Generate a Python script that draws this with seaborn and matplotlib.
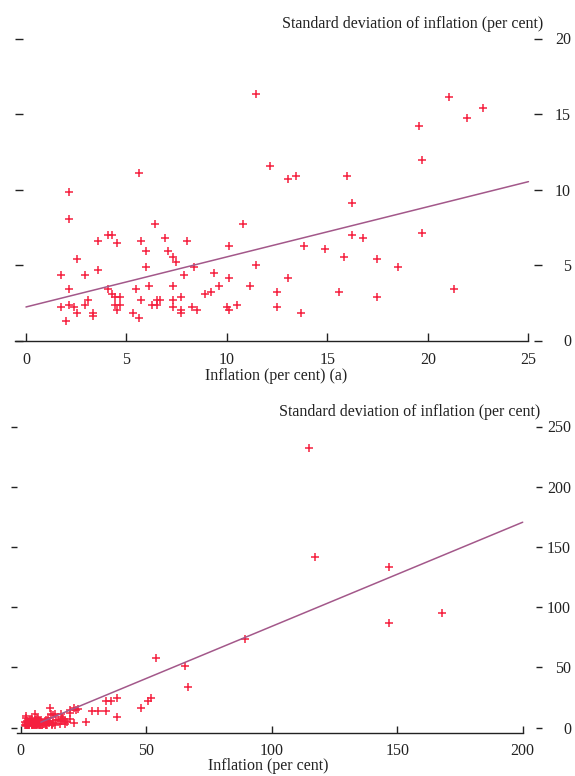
import numpy as np
import pandas as pd
import seaborn as sns
import matplotlib.pyplot as plt

# ---- values ----
# panel (a): countries with average inflation below 25 per cent
infl_a = [5.6, 2.14, 2.14, 6.4, 10.8, 4.1, 4.27, 3.59, 4.54, 5.72,
          6.92, 8.0, 10.1, 5.99, 7.07, 7.32, 7.47, 2.53, 3.59, 5.99,
          8.38, 11.46, 1.73, 2.94, 7.85, 9.33, 10.1, 13.03, 2.14, 4.1,
          5.45, 6.13, 7.32, 9.59, 11.17, 12.48, 4.27, 8.91, 9.2, 3.07,
          4.41, 4.67, 5.72, 6.52, 6.65, 7.32, 7.73, 1.73, 2.14, 2.41,
          2.94, 4.41, 4.67, 6.25, 6.52, 7.32, 8.25, 9.98, 10.52, 12.48,
          2.54, 3.34, 3.34, 4.54, 5.32, 7.73, 7.73, 8.53, 10.1, 2.01,
          5.6, 13.68, 13.03, 13.43, 15.97, 16.22, 16.22, 16.75, 19.7, 13.83,
          14.9, 15.83, 17.44, 18.49, 15.58, 17.44, 21.3, 21.03, 22.76, 21.96,
          19.57, 19.7, 11.44, 12.12]
sd_a = [11.07, 9.82, 8.04, 7.69, 7.71, 6.98, 6.98, 6.62, 6.44, 6.62,
        6.8, 6.62, 6.27, 5.91, 5.93, 5.56, 5.2, 5.38, 4.67, 4.84,
        4.84, 5.02, 4.31, 4.31, 4.31, 4.49, 4.16, 4.13, 3.44, 3.44,
        3.44, 3.62, 3.62, 3.6, 3.62, 3.24, 3.07, 3.07, 3.24, 2.71,
        2.89, 2.89, 2.71, 2.71, 2.71, 2.71, 2.89, 2.2, 2.36, 2.2,
        2.36, 2.36, 2.36, 2.36, 2.36, 2.2, 2.2, 2.2, 2.36, 2.2,
        1.82, 1.82, 1.64, 2.0, 1.82, 2.0, 1.82, 2.0, 2.0, 1.29,
        1.49, 1.82, 10.71, 10.89, 10.89, 9.11, 6.98, 6.8, 7.15, 6.27,
        6.09, 5.56, 5.38, 4.84, 3.24, 2.89, 3.42, 16.11, 15.42, 14.71,
        14.18, 11.98, 16.3, 11.54]

# high-inflation countries, only in the full sample (lower panel)
infl_b = [25.8, 28.5, 30.8, 33.8, 33.8, 36.0, 38.3, 38.2, 48.0, 50.8,
          51.9, 53.8, 65.4, 66.5, 89.5, 114.7, 117.1, 146.6, 146.6, 167.9]
sd_b = [4.6, 13.7, 13.7, 13.7, 22.2, 22.2, 24.4, 8.6, 15.8, 22.3,
        24.4, 58.0, 51.3, 33.3, 73.5, 232.0, 142.0, 133.0, 86.5, 95.3]

# fitted lines: (intercept, slope) and the x range they span
fit_a = (2.22, 0.332)
fit_all = (-2.5, 0.865)
fit_range_a = (0, 25)
fit_range_all = (8, 200)

xticks_a = [0, 5, 10, 15, 20, 25]
yticks_a = [0, 5, 10, 15, 20]
xticks_all = [0, 50, 100, 150, 200]
yticks_all = [0, 50, 100, 150, 200, 250]

ylab = 'Standard deviation of inflation (per cent)'

# ---- styling ----
sns.set_theme(style='white')
plt.rcParams['font.family'] = ['Liberation Serif', 'DejaVu Serif']
plt.rcParams['font.size'] = 11.5

red = '#f5203f'
mauve = '#a3588a'
ink = '#222222'

W, H = 575, 776
fig = plt.figure(figsize=(W / 100, H / 100), dpi=100)


def px_axes(left, right, top, bottom):
    return fig.add_axes([left / W, 1 - bottom / H, (right - left) / W, (bottom - top) / H])


def fit_frame(fit, rng):
    x = np.array(rng, dtype=float)
    return pd.DataFrame({'infl': x, 'sd': fit[0] + fit[1] * x})


def style(ax, xlim, xticks, spine_start, ylim, yticks, ylen, xlen, offset, xpad, rpad, xlabel, lx, ly):
    ax.set_xlim(xlim)
    ax.set_ylim(ylim)
    ax.set_xticks(xticks)
    ax.set_yticks(yticks)
    for s in ['top', 'left', 'right']:
        ax.spines[s].set_visible(False)
    sp = ax.spines['bottom']
    sp.set_bounds(spine_start, xticks[-1])
    sp.set_position(('outward', offset))
    sp.set_color(ink)
    sp.set_linewidth(1.0)
    ax.tick_params(axis='x', bottom=True, top=False, direction='in', length=xlen, width=1.0,
                   color=ink, labelcolor=ink, pad=xpad, labelsize=11.5)
    ax.tick_params(axis='y', left=True, right=True, labelleft=False, labelright=True,
                   direction='inout', length=ylen, width=1.0, color=ink,
                   labelcolor=ink, pad=rpad, labelsize=11.5)
    for t in ax.yaxis.get_major_ticks():
        t.label2.set_horizontalalignment('right')
    ax.set_xlabel(xlabel, color=ink, fontsize=11.5)
    ax.xaxis.set_label_coords(lx, ly)
    ax.set_ylabel('')
    ax.grid(False)


df_a = pd.DataFrame({'infl': infl_a, 'sd': sd_a})
df_all = pd.concat([df_a, pd.DataFrame({'infl': infl_b, 'sd': sd_b})], ignore_index=True)

# ---- top panel (a) ----
ax1 = px_axes(18.5, 537.5, 38.5, 340.5)
sns.lineplot(data=fit_frame(fit_a, fit_range_a), x='infl', y='sd', color=mauve, linewidth=1.1, ax=ax1)
sns.scatterplot(data=df_a, x='infl', y='sd', marker='+', s=38, color=red, linewidth=1.1, ax=ax1)
style(ax1, (-0.373, 25.45), xticks_a, -0.547, (0, 20), yticks_a,
      ylen=5.4, xlen=5.8, offset=0, xpad=8, rpad=21.4,
      xlabel='Inflation (per cent) (a)', lx=0.496, ly=-0.091)
fig.text(543 / W, 1 - 24 / H, ylab, ha='right', va='center', color=ink, fontsize=11.5)

# ---- bottom panel: full sample ----
ax2 = px_axes(13.75, 539, 426.5, 727.5)
sns.lineplot(data=fit_frame(fit_all, fit_range_all), x='infl', y='sd', color=mauve, linewidth=1.1, ax=ax2)
sns.scatterplot(data=df_all, x='infl', y='sd', marker='+', s=38, color=red, linewidth=1.1, ax=ax2)
style(ax2, (-2.81, 206.5), xticks_all, -1.6, (0, 250), yticks_all,
      ylen=4.3, xlen=4.7, offset=4.3, xpad=6.7, rpad=20.9,
      xlabel='Inflation (per cent)', lx=0.484, ly=-0.101)
fig.text(540 / W, 1 - 412 / H, ylab, ha='right', va='center', color=ink, fontsize=11.5)

fig.savefig('out.png', dpi=100)
